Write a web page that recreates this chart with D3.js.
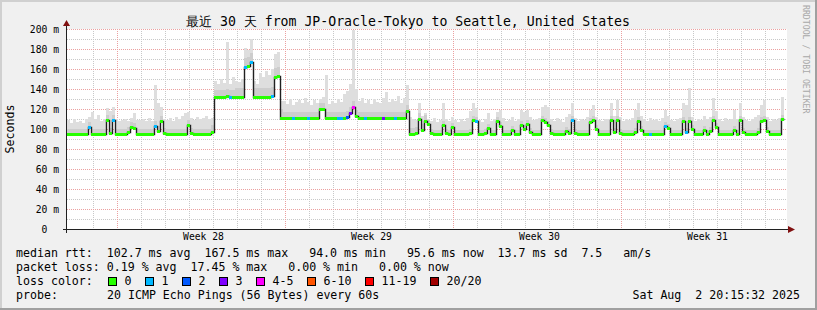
<!DOCTYPE html>
<html>
<head>
<meta charset="utf-8">
<script src="https://cdn.jsdelivr.net/npm/d3@7"></script>
<style>
  body { margin: 0; background: #f0f0f0; }
  svg text { font-family: "DejaVu Sans Mono", monospace; white-space: pre; }
</style>
</head>
<body>
<svg id="chart" width="817" height="310"></svg>
<script>
// 30 days, 3-hour bins (240 bins) (ms)
const startTime = Date.UTC(2025, 6, 3, 22)
const endTime = Date.UTC(2025, 7, 2, 22)
const binHours = 3

const median = [
  95, 95, 95, 95, 95, 95, 95, 102,
  95, 95, 95, 95, 95, 109, 96, 109,
  95, 95, 95, 95, 97, 102, 101, 95,
  95, 95, 95, 95, 95, 103, 98, 108,
  96, 95, 95, 95, 95, 95, 95, 95,
  104, 96, 95, 95, 95, 95, 95, 95,
  97, 132, 132, 132, 132, 133, 132, 132,
  132, 132, 132, 162, 163, 167, 132, 132,
  132, 132, 132, 132, 133, 152, 153, 111,
  111, 111, 111, 111, 111, 111, 111, 111,
  111, 111, 111, 111, 120, 120, 111, 111,
  111, 111, 111, 111, 111, 112, 116, 122,
  113, 111, 111, 111, 111, 111, 111, 111,
  111, 111, 111, 111, 111, 111, 111, 111,
  111, 118, 95, 95, 96, 110, 99, 108,
  105, 96, 95, 95, 95, 104, 96, 95,
  102, 95, 95, 95, 95, 95, 96, 109,
  108, 95, 95, 96, 101, 95, 95, 108,
  103, 95, 95, 95, 99, 95, 95, 104,
  100, 105, 97, 95, 95, 95, 109, 107,
  104, 96, 95, 95, 95, 95, 98, 96,
  109, 96, 95, 95, 95, 95, 107, 109,
  100, 95, 95, 95, 95, 109, 97, 109,
  96, 95, 95, 95, 95, 97, 108, 99,
  95, 95, 95, 95, 95, 95, 95, 103,
  101, 95, 95, 95, 95, 108, 97, 108,
  100, 95, 95, 95, 99, 95, 98, 109,
  102, 95, 95, 95, 95, 95, 99, 95,
  109, 97, 95, 95, 95, 95, 97, 108,
  109, 98, 95, 95, 95, 95, 110, null
]

const smokeTop = [
  109, 106, 110, 107, 108, 106, 110, 112,
  117, 110, 114, 108, 110, 121, 118, 122,
  110, 108, 109, 110, 108, 111, 116, 109,
  109, 110, 108, 111, 108, 144, 126, 122,
  110, 109, 111, 108, 112, 110, 113, 116,
  117, 111, 109, 112, 110, 111, 113, 110,
  111, 148, 145, 150, 146, 187, 145, 152,
  148, 147, 150, 181, 179, 190, 148, 145,
  156, 152, 158, 154, 160, 175, 177, 128,
  128, 125, 130, 124, 127, 129, 126, 131,
  127, 124, 129, 126, 130, 132, 154, 125,
  128, 126, 130, 127, 135, 138, 145, 199,
  140, 128, 131, 126, 129, 125, 130, 127,
  126, 131, 137, 127, 130, 128, 133, 126,
  131, 144, 112, 110, 109, 126, 113, 116,
  110, 108, 111, 107, 109, 126, 110, 108,
  112, 109, 107, 110, 108, 111, 118, 126,
  121, 109, 107, 110, 116, 108, 110, 117,
  119, 111, 108, 109, 112, 108, 110, 119,
  117, 119, 112, 109, 110, 111, 122, 124,
  122, 110, 108, 111, 109, 107, 112, 115,
  126, 111, 108, 110, 109, 112, 119, 124,
  112, 109, 108, 110, 110, 126, 113, 129,
  112, 108, 110, 109, 111, 119, 126, 113,
  110, 108, 111, 109, 110, 108, 111, 119,
  113, 109, 108, 110, 111, 126, 124, 141,
  112, 108, 110, 109, 113, 110, 112, 131,
  118, 110, 108, 111, 109, 110, 119, 110,
  126, 112, 109, 108, 110, 112, 114, 124,
  129, 112, 108, 110, 109, 111, 132, null
]

// depth of the darker part of the smoke above the median, one per day
const smokeDepth = [5, 5, 5, 5, 5, 5, 7, 9, 9, 6, 6, 6, 6, 6, 6,
  4, 4, 4, 4, 4, 4, 4, 4, 4, 4, 4, 4, 4, 4, 4]

// bins where loss was not zero, and the loss class there
const lossBins = [7, 15, 29, 54, 59, 61, 68, 75, 80, 90, 91, 93, 94, 95, 99, 105, 109, 136, 168, 194, 199, 206]
const lossLevels = [1, 1, 1, 1, 1, 1, 1, 1, 1, 1, 1, 2, 3, 4, 1, 3, 1, 1, 1, 1, 1, 1]

const lossLabels = ['0', '1', '2', '3', '4-5', '6-10', '11-19', '20/20']
const lossColors = ['#26ff00', '#00b8ff', '#0059ff', '#7e00ff', '#ff00ff', '#ff5500', '#ff0000', '#a10000']

const yTicks = [0, 20, 40, 60, 80, 100, 120, 140, 160, 180, 200]
const weekStarts = ['2025-07-06', '2025-07-13', '2025-07-20', '2025-07-27']
const weekLabels = ['Week 28', 'Week 29', 'Week 30', 'Week 31']

const title = '最近 30 天 from JP-Oracle-Tokyo to Seattle, United States'
const rttLine = 'median rtt:  102.7 ms avg  167.5 ms max   94.0 ms min   95.6 ms now  13.7 ms sd  7.5   am/s'
const lossLine = 'packet loss: 0.19 % avg  17.45 % max   0.00 % min   0.00 % now'
const probeText = '20 ICMP Echo Pings (56 Bytes) every 60s'
const stampText = 'Sat Aug  2 20:15:32 2025'

const svg = d3.select('#chart')
const W = 817
const H = 310
const plot = { left: 67, right: 787, top: 29, bottom: 229 }

const x = d3.scaleUtc().domain([startTime, endTime]).range([plot.left, plot.right])
const y = d3.scaleLinear().domain([0, 200]).range([plot.bottom, plot.top])
const binTime = i => startTime + i * binHours * 3600e3

// frame
svg.append('rect').attr('width', W).attr('height', H).attr('fill', '#f0f0f0')
svg.append('path').attr('d', `M0,${H} V0 H${W}`).attr('stroke', '#d0d0d0').attr('stroke-width', 4).attr('fill', 'none')
svg.append('path').attr('d', `M0,${H} H${W} V0`).attr('stroke', '#a0a0a0').attr('stroke-width', 4).attr('fill', 'none')

svg.append('rect')
  .attr('x', plot.left).attr('y', plot.top)
  .attr('width', plot.right - plot.left).attr('height', plot.bottom - plot.top)
  .attr('fill', '#ffffff')

// grid
const grid = svg.append('g').attr('shape-rendering', 'crispEdges')
const minorY = d3.range(0, 201, 10).filter(v => v % 20 !== 0)
grid.selectAll('.gy').data(minorY).enter().append('line')
  .attr('x1', plot.left).attr('x2', plot.right)
  .attr('y1', d => y(d) + 0.5).attr('y2', d => y(d) + 0.5)
  .attr('stroke', '#c8c8c8').attr('stroke-dasharray', '1,1')
const days = d3.utcDay.range(new Date(startTime), new Date(endTime))
  .filter(d => d.getUTCDay() !== 0 && x(d) > plot.left + 3)
grid.selectAll('.gx').data(days).enter().append('line')
  .attr('x1', d => Math.round(x(d)) + 0.5).attr('x2', d => Math.round(x(d)) + 0.5)
  .attr('y1', plot.top).attr('y2', plot.bottom)
  .attr('stroke', '#c8c8c8').attr('stroke-dasharray', '1,1')
grid.selectAll('.my').data(yTicks.filter(v => v > 0)).enter().append('line')
  .attr('x1', plot.left).attr('x2', plot.right)
  .attr('y1', d => y(d) + 0.5).attr('y2', d => y(d) + 0.5)
  .attr('stroke', '#eba0a0').attr('stroke-dasharray', '1,1')
grid.selectAll('.mx').data(weekStarts).enter().append('line')
  .attr('x1', d => Math.round(x(new Date(d))) + 0.5).attr('x2', d => Math.round(x(new Date(d))) + 0.5)
  .attr('y1', plot.top).attr('y2', plot.bottom)
  .attr('stroke', '#eba0a0').attr('stroke-dasharray', '1,1')

// smoke
const bins = median.map((m, i) => ({ i, m, top: smokeTop[i], depth: smokeDepth[Math.floor(i / 8)] }))
  .filter(d => d.m !== null)
const bx = d => x(binTime(d.i))
const bw = d => x(binTime(d.i + 1)) - x(binTime(d.i))

const smoke = svg.append('g').attr('shape-rendering', 'crispEdges')
smoke.selectAll('.s1').data(bins).enter().append('rect')
  .attr('x', bx).attr('width', bw)
  .attr('y', d => y(d.top)).attr('height', d => y(d.m - 1) - y(d.top))
  .attr('fill', '#dedede')
smoke.selectAll('.s2').data(bins).enter().append('rect')
  .attr('x', bx).attr('width', bw)
  .attr('y', d => y(Math.min(d.top, d.m + d.depth))).attr('height', d => y(d.m - 1) - y(Math.min(d.top, d.m + d.depth)))
  .attr('fill', '#cdcdcd')

// median line
const pts = median.map((m, i) => ({ t: binTime(i), m }))
const lastIdx = median.length - 2
pts.splice(lastIdx + 1, 0, { t: binTime(lastIdx + 1), m: median[lastIdx] })
svg.append('path')
  .datum(pts)
  .attr('fill', 'none').attr('stroke', '#202020').attr('stroke-width', 1.4)
  .attr('d', d3.line().defined(d => d.m !== null).curve(d3.curveStepAfter)
    .x(d => Math.round(x(d.t)) + 0.5).y(d => Math.round(y(d.m)) + 0.5))

// loss colour band on the median
const lossOf = i => { const k = lossBins.indexOf(i); return k < 0 ? 0 : lossLevels[k] }
svg.append('g').attr('shape-rendering', 'crispEdges')
  .selectAll('rect').data(bins).enter().append('rect')
  .attr('x', bx).attr('width', bw)
  .attr('y', d => Math.round(y(d.m)) - 1).attr('height', 3)
  .attr('fill', d => lossColors[lossOf(d.i)])

// axes
const axisCol = '#202020'
const yAxis = svg.append('g').attr('transform', `translate(${plot.left - 8},0)`)
  .call(d3.axisLeft(y).tickValues(yTicks).tickSize(0).tickPadding(0)
    .tickFormat(d => d === 0 ? '0  ' : d + ' m'))
yAxis.select('.domain').remove()
yAxis.selectAll('text').attr('font-family', 'DejaVu Sans Mono').attr('font-size', 9.7)
  .attr('fill', '#000').attr('dy', '0.35em')

const weekMid = weekStarts.map(d => new Date(Date.parse(d) + 86 * 3600e3))
const xAxis = svg.append('g').attr('transform', `translate(0,${plot.bottom + 2})`)
  .call(d3.axisBottom(x).tickValues(weekMid).tickSize(0).tickPadding(2)
    .tickFormat((d, i) => weekLabels[i]))
xAxis.select('.domain').remove()
xAxis.selectAll('text').attr('font-family', 'DejaVu Sans Mono').attr('font-size', 9.7).attr('fill', '#000')

svg.append('line').attr('x1', plot.left - 4).attr('x2', plot.right + 2)
  .attr('y1', plot.bottom + 0.5).attr('y2', plot.bottom + 0.5)
  .attr('stroke', axisCol).attr('shape-rendering', 'crispEdges')
svg.append('line').attr('x1', plot.left - 0.5).attr('x2', plot.left - 0.5)
  .attr('y1', plot.bottom + 4).attr('y2', plot.top - 4)
  .attr('stroke', axisCol).attr('shape-rendering', 'crispEdges')
svg.append('path').attr('d', `M${plot.left - 4},${plot.top - 3} L${plot.left - 0.5},${plot.top - 9} L${plot.left + 3},${plot.top - 3}Z`).attr('fill', '#801010')
svg.append('path').attr('d', `M${plot.right + 1},${plot.bottom - 3} L${plot.right + 8},${plot.bottom + 0.5} L${plot.right + 1},${plot.bottom + 4}Z`).attr('fill', '#801010')

// titles
svg.append('text').attr('x', 408).attr('y', 26).attr('text-anchor', 'middle')
  .attr('font-size', 13.2).text(title)
svg.append('text').attr('transform', 'translate(14,129) rotate(-90)').attr('text-anchor', 'middle')
  .attr('font-size', 11.6).text('Seconds')
svg.append('text').attr('transform', 'translate(803,5) rotate(90)')
  .attr('font-size', 8.2).attr('fill', '#a8a8a8').text('RRDTOOL / TOBI OETIKER')

// legend
const leg = svg.append('g').attr('font-size', 11.6).attr('fill', '#000')
leg.append('text').attr('x', 16).attr('y', 257).text(rttLine)
leg.append('text').attr('x', 16).attr('y', 271).text(lossLine)
leg.append('text').attr('x', 16).attr('y', 285).text('loss color:')
let lx = 108.5
lossLabels.forEach((lab, i) => {
  leg.append('rect').attr('x', lx).attr('y', 277.5).attr('width', 8).attr('height', 8)
    .attr('fill', lossColors[i]).attr('stroke', '#000')
  leg.append('text').attr('x', lx + 16).attr('y', 285).text(lab)
  lx += 30 + 7 * lab.length
})
leg.append('text').attr('x', 16).attr('y', 299).text('probe:')
leg.append('text').attr('x', 107).attr('y', 299).text(probeText)
leg.append('text').attr('x', 800).attr('y', 299).attr('text-anchor', 'end').text(stampText)
</script>
</body>
</html>
